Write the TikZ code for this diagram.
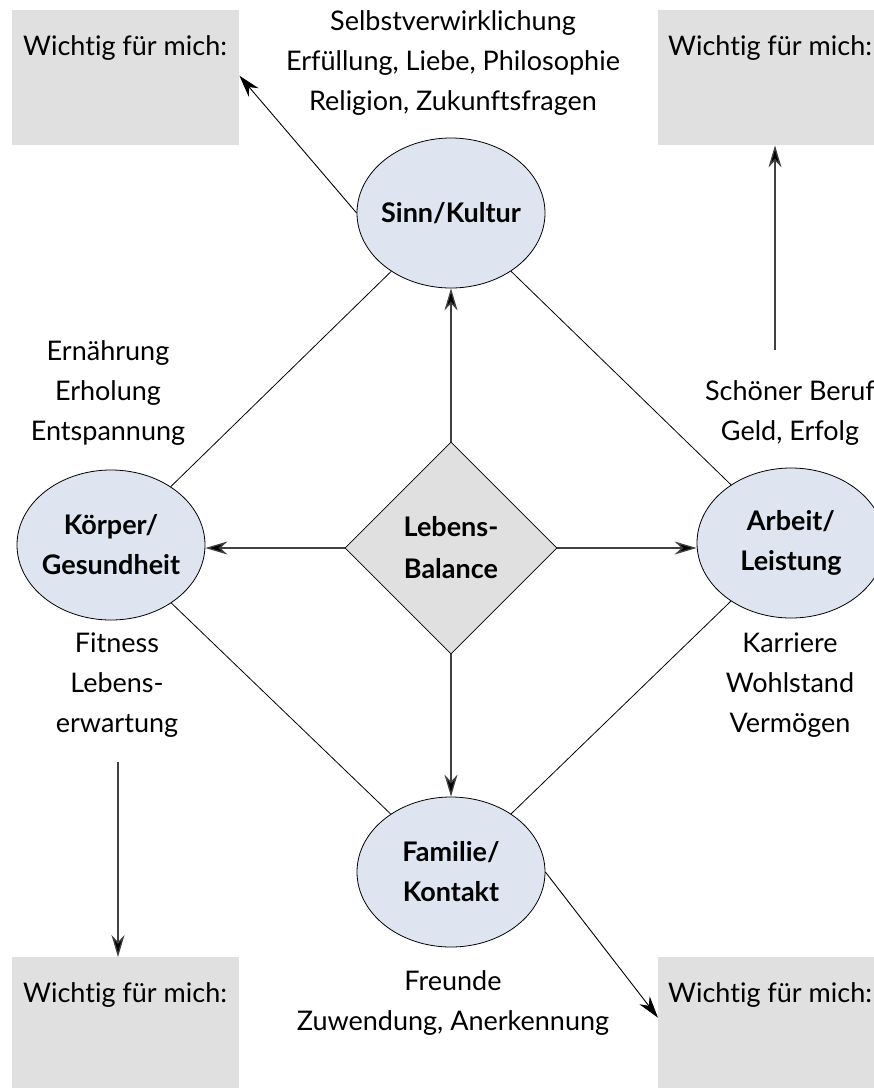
\documentclass[tikz,border=0pt]{standalone}
\usepackage{fontspec}
\setmainfont{Lato}[Ligatures=NoCommon]
\usetikzlibrary{shapes.geometric,arrows.meta}
\definecolor{boxgray}{HTML}{E0E0E0}
\definecolor{ellfill}{HTML}{DFE5F0}
\begin{document}
\begin{tikzpicture}[x=1pt,y=-1pt,
  every node/.style={font=\fontsize{27}{40}\selectfont},
  infobox/.style={fill=boxgray,minimum width=227pt,minimum height=135pt,inner sep=0pt},
  boxtext/.style={anchor=base west,inner sep=0pt},
  area/.style={ellipse,draw,fill=ellfill,line width=0.8pt,minimum width=188pt,minimum height=150pt,inner sep=0pt},
  areatext/.style={align=center,inner sep=0pt,font=\fontsize{27}{40}\selectfont\bfseries},
  centre/.style={diamond,draw,fill=boxgray,line width=0.8pt,minimum width=212pt,minimum height=212pt,inner sep=0pt,aspect=1,align=center,font=\fontsize{27}{42}\selectfont\bfseries},
  label/.style={align=center,inner sep=0pt},
  link/.style={line width=0.8pt},
  arr/.style={line width=1.3pt,draw=black!75,-{Stealth[length=22pt,width=13pt,inset=7pt,fill=black]}}
]
\useasboundingbox (0,0) rectangle (874,1088);
% boxes
\node[infobox,anchor=north west] (tl) at (12,10) {};
\node[infobox,anchor=north west] (tr) at (658,10) {};
\node[infobox,anchor=north west] (bl) at (12,957) {};
\node[infobox,anchor=north west] (br) at (658,957) {};
\node[boxtext] (tlt) at (23,55) {Wichtig für mich:};
\node[boxtext] (trt) at (668,55) {Wichtig für mich:};
\node[boxtext] (blt) at (23,1002) {Wichtig für mich:};
\node[boxtext] (brt) at (668,1002) {Wichtig für mich:};
% areas
\node[area] (sinn) at (451,213) {};
\node[area] (koerper) at (111,545) {};
\node[area] (arbeit) at (791,543) {};
\node[area] (familie) at (451,872) {};
\node[areatext] (sinnt) at (sinn) {Sinn/Kultur};
\node[areatext] (koerpert) at (koerper) {Körper/\\Gesundheit};
\node[areatext] (arbeitt) at (arbeit) {Arbeit/\\Leistung};
\node[areatext] (familiet) at (familie) {Familie/\\Kontakt};
\node[centre] (bal) at (451,548) {Lebens-\\Balance};
% labels
\node[label] (l1) at (453,63) {Selbstverwirklichung\\Erfüllung, Liebe, Philosophie\\Religion, Zukunftsfragen};
\node[label] (l2) at (108,393) {Ernährung\\Erholung\\Entspannung};
\node[label] (l3) at (117,685) {Fitness\\Lebens-\\erwartung};
\node[label] (l4) at (790,413) {Schöner Beruf\\Geld, Erfolg};
\node[label] (l5) at (790,685) {Karriere\\Wohlstand\\Vermögen};
\node[label] (l6) at (453,1003) {Freunde\\Zuwendung, Anerkennung};
% links
\draw[link] (sinn) -- (koerper);
\draw[link] (sinn) -- (arbeit);
\draw[link] (koerper) -- (familie);
\draw[link] (arbeit) -- (familie);
% arrows from centre
\draw[arr] (bal.north) -- (sinn.south);
\draw[arr] (bal.west) -- (bal.west -| koerper.east);
\draw[arr] (bal.east) -- (bal.east -| arbeit.west);
\draw[arr] (bal.south) -- (familie.north);
% arrows to boxes
\coordinate (trs) at (775,350);
\coordinate (bls) at (118,762);
\draw[arr,line width=0.9pt,draw=black] (sinn.west) -- ([yshift=2pt]tl.east);
\draw[arr] (trs) -- (tr.south -| trs);
\draw[arr] (bls) -- (bl.north -| bls);
\draw[arr,line width=0.9pt,draw=black] (familie.east) -- ([yshift=7pt]br.west);
\end{tikzpicture}
\end{document}
